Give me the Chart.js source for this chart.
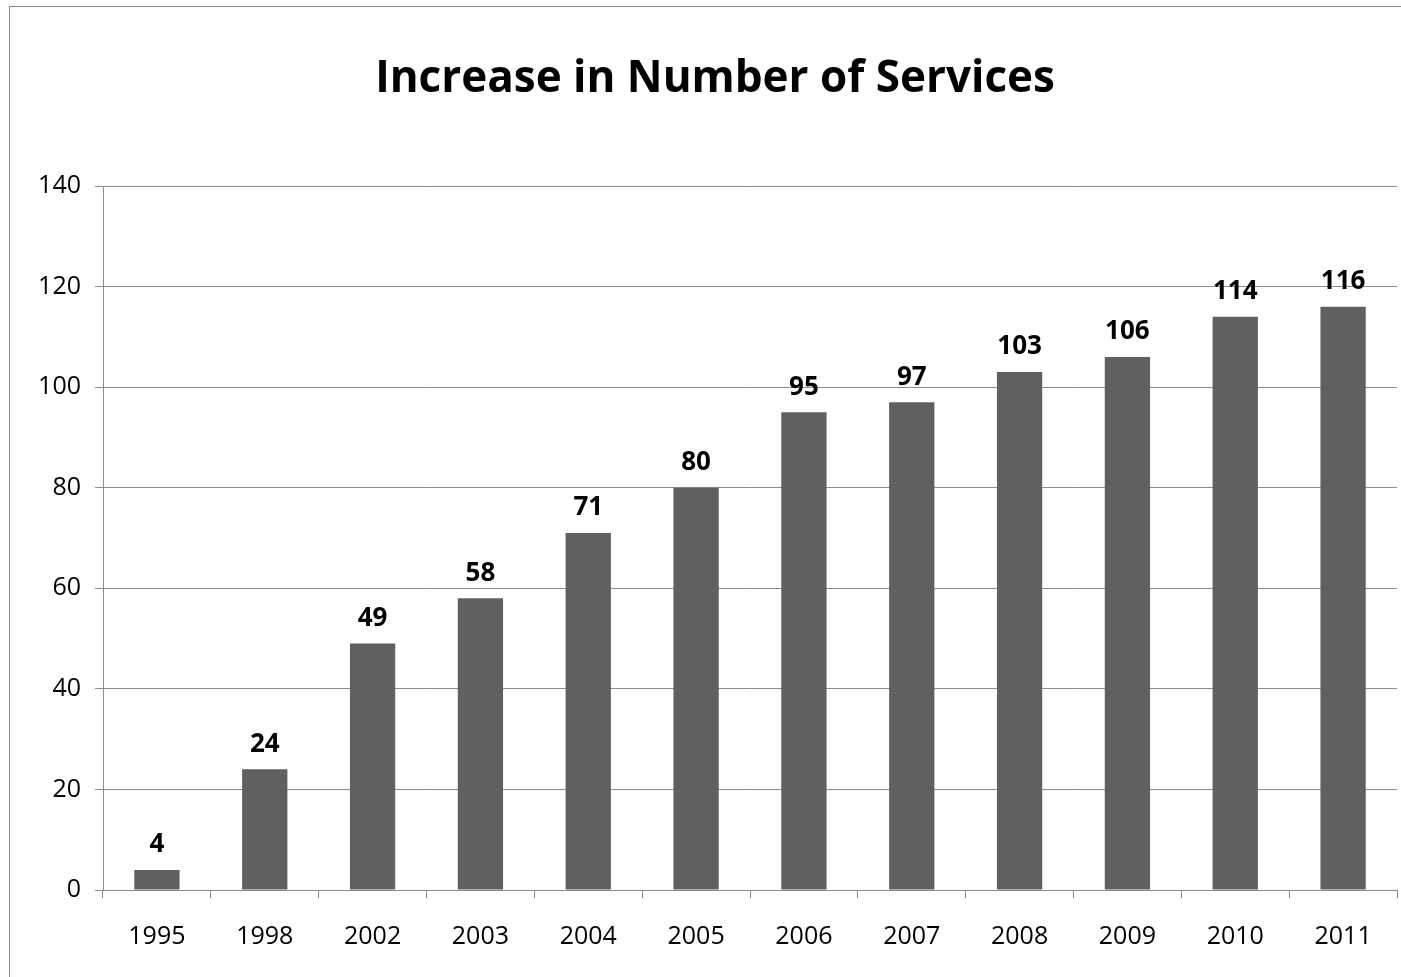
<!DOCTYPE html>
<html>
<head>
<meta charset="utf-8">
<script src="https://cdn.jsdelivr.net/npm/chart.js@4"></script>
<style>
  body { margin: 0; background: #fff; }
  #frame { position: absolute; left: 9px; top: 6px; width: 1400px; height: 980px; border: 1px solid #8c8c8c; }
  #wrap { position: absolute; left: 0; top: 0; width: 1401px; height: 977px; }
</style>
</head>
<body>
<div id="frame"></div>
<div id="wrap"><canvas id="myChart" width="1401" height="977"></canvas></div>
<script>
var years = ['1995','1998','2002','2003','2004','2005','2006','2007','2008','2009','2010','2011'];
var services = [4,24,49,58,71,80,95,97,103,106,114,116];
var chartTitle = 'Increase in Number of Services';

var fontName = '"Open Sans", Lato, sans-serif';

// title + value labels drawn on top
var labelsPlugin = {
  id: 'labels',
  afterDatasetsDraw: function(chart) {
    var ctx = chart.ctx;
    ctx.save();
    ctx.fillStyle = '#000';
    ctx.textAlign = 'center';
    ctx.textBaseline = 'bottom';
    ctx.font = 'bold 26px ' + fontName;
    chart.getDatasetMeta(0).data.forEach(function(bar, i) {
      ctx.fillText(services[i], bar.x, bar.y - 12);
    });
    ctx.font = 'bold 44px ' + fontName;
    ctx.textBaseline = 'middle';
    ctx.fillText(chartTitle, 715, 79);
    ctx.restore();
  }
};

window.onload = function(){

var ctx = document.getElementById("myChart");
var myChart = new Chart(ctx, {
  type: 'bar',
  data: {
    labels: years,
    datasets: [
      {
        label: 'Services',
        backgroundColor: '#606060',
        data: services,
        categoryPercentage: 1,
        barPercentage: 0.42
      }
    ]
  },
  options: {
    responsive: false,
    animation: false,
    layout: { padding: { left: 0, right: 4, top: 186, bottom: 0 } },
    plugins: {
      legend: { display: false },
      title: { display: false },
      tooltip: { enabled: false }
    },
    scales: {
      y: {
        min: 0,
        max: 140,
        ticks: { stepSize: 20, color: '#000', font: { family: fontName, size: 25 }, padding: 14 },
        grid: { color: '#8c8c8c', tickLength: 8, tickColor: '#8c8c8c' },
        border: { color: '#8c8c8c' },
        afterFit: function(s) { s.width = 103; }
      },
      x: {
        ticks: { color: '#000', font: { family: fontName, size: 25 }, padding: 24 },
        grid: { display: true, drawOnChartArea: false, offset: true, tickLength: 8, tickColor: '#8c8c8c' },
        border: { color: '#8c8c8c' },
        afterFit: function(s) { s.height = 87; }
      }
    }
  },
  plugins: [labelsPlugin]
});

};
</script>
</body>
</html>
